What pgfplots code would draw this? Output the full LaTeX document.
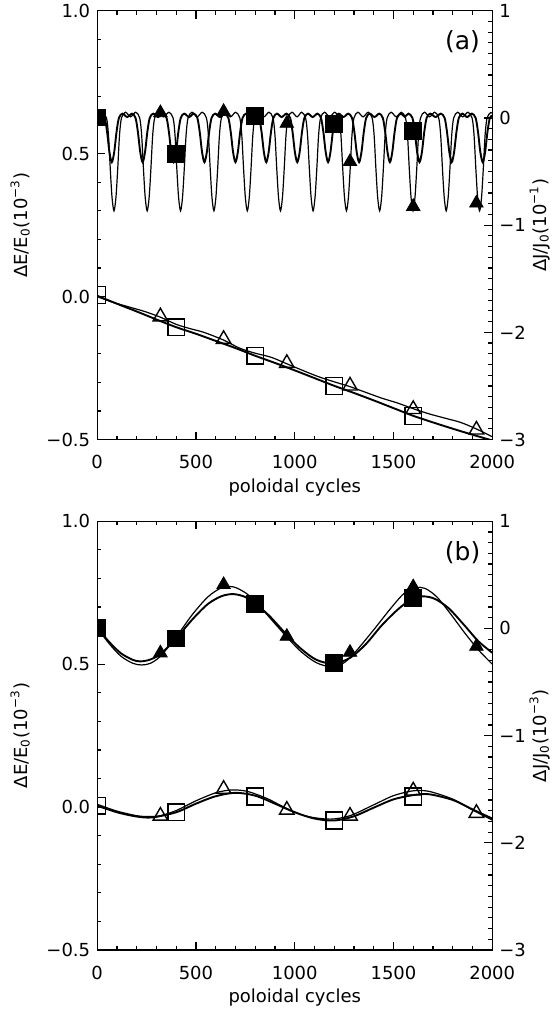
\documentclass[border=0pt]{standalone}
\usepackage{fontspec}
\setmainfont{DejaVu Sans}
\usepackage{pgfplots}
\pgfplotsset{compat=1.18}
\pgfplotsset{
  base/.style={
    width=197.7pt, height=214.65pt, scale only axis,
    xmin=0, xmax=2000,
    clip mode=individual, clip marker paths=true,
    major tick length=4pt, minor tick length=2pt,
    every tick/.style={black, line width=0.6pt},
    ticklabel style={font=\fontsize{9}{10}\selectfont},
    label style={font=\fontsize{9}{10}\selectfont},
    /pgf/number format/assume math mode=true,
    every axis plot/.append style={black},
  },
  leftax/.style={base,
    ymin=-0.5, ymax=1,
    ytick={-0.5,0,0.5,1}, yticklabels={−0.5,0.0,0.5,1.0},
    minor y tick num=4,
    xtick={0,500,1000,1500,2000}, xticklabels={0,500,1000,1500,2000},
    minor x tick num=4,
    ytick pos=left, xtick pos=both, xticklabel pos=lower,
    xticklabel style={yshift=-4.5pt},
    tick align=inside,
    axis line style={line width=0.65pt},
    xlabel={poloidal cycles},
    xlabel style={at={(axis description cs:0.5,0)}, anchor=center, yshift=-24pt},
    ylabel={ΔE/E\textsubscript{0}(10\textsuperscript{−3})},
    ylabel style={at={(axis description cs:-0.195,0.5)}, anchor=center},
  },
  rightax/.style={base,
    ymin=-3, ymax=1,
    ytick={-3,-2,-1,0,1}, yticklabels={−3,−2,−1,0,1},
    minor y tick num=9,
    axis x line=none, axis y line*=right,
    tick align=inside,
    axis line style={draw=none},
    ylabel style={at={(axis description cs:1.12,0.5)}, anchor=center},
  },
  thinl/.style={line width=0.6pt, smooth, no markers},
  thickl/.style={line width=0.95pt, smooth, no markers},
  fsq/.style={only marks, mark=square*, mark size=4.2pt},
  ftr/.style={only marks, mark=triangle*, mark size=3.9pt},
  osq/.style={only marks, mark=square, mark size=4.2pt, mark options={line width=0.7pt}},
  otr/.style={only marks, mark=triangle, mark size=4.2pt, mark options={line width=0.7pt}},
}
\begin{document}
\begin{tikzpicture}
% ===================== panel (a) =====================
\begin{axis}[leftax, at={(0pt,0pt)}, anchor=south west]
\addplot[thickl] coordinates {(0,0.003)(100,-0.025)(200,-0.052)(300,-0.08)(400,-0.107)(500,-0.13)(600,-0.155)(700,-0.18)(800,-0.207)(900,-0.232)(1000,-0.258)(1100,-0.285)(1200,-0.312)(1300,-0.337)(1400,-0.363)(1500,-0.39)(1600,-0.417)(1700,-0.44)(1800,-0.462)(1900,-0.483)(2000,-0.503)};
\addplot[thinl] coordinates {(0,0.0)(80,-0.02)(170,-0.038)(240,-0.052)(320,-0.072)(400,-0.097)(470,-0.112)(540,-0.125)(640,-0.152)(720,-0.18)(800,-0.198)(880,-0.212)(960,-0.235)(1040,-0.258)(1120,-0.28)(1200,-0.298)(1280,-0.315)(1360,-0.335)(1440,-0.355)(1520,-0.372)(1600,-0.392)(1680,-0.41)(1760,-0.425)(1840,-0.44)(1920,-0.463)(2000,-0.49)};
\addplot[osq] coordinates {(0,0.006)(400,-0.107)(800,-0.207)(1200,-0.312)(1600,-0.417)};
\addplot[otr] coordinates {(320,-0.07)(640,-0.149)(960,-0.233)(1280,-0.312)(1600,-0.394)(1920,-0.466)};
\node[font=\fontsize{12.5}{14}\selectfont] at (axis cs:1850,0.89) {(a)};
\end{axis}
\begin{axis}[rightax, at={(0pt,0pt)}, anchor=south west,
  ylabel={ΔJ/J\textsubscript{0}(10\textsuperscript{−1})}]
\addplot[thinl] coordinates {(0,0.013)(25,0.045)
(47,0)(57,-0.16)(66,-0.47)(75,-0.74)(85,-0.867)(95,-0.74)(104,-0.47)(113,-0.16)(123,0)(143,0.053)(169,0.01)(195,0.053)
(215,0)(225,-0.16)(234,-0.47)(243,-0.74)(253,-0.867)(263,-0.74)(272,-0.47)(281,-0.16)(291,0)(311,0.053)(337,0.01)(363,0.053)
(384,0)(394,-0.16)(403,-0.47)(412,-0.74)(422,-0.867)(432,-0.74)(441,-0.47)(450,-0.16)(460,0)(480,0.053)(506,0.01)(532,0.053)
(553,0)(563,-0.16)(572,-0.47)(581,-0.74)(591,-0.867)(601,-0.74)(610,-0.47)(619,-0.16)(629,0)(649,0.053)(675,0.01)(701,0.053)
(722,0)(732,-0.16)(741,-0.47)(750,-0.74)(760,-0.867)(770,-0.74)(779,-0.47)(788,-0.16)(798,0)(818,0.053)(844,0.01)(870,0.053)
(890,0)(900,-0.16)(909,-0.47)(918,-0.74)(928,-0.867)(938,-0.74)(947,-0.47)(956,-0.16)(966,0)(986,0.053)(1012,0.01)(1035,0.053)
(1055,0)(1065,-0.16)(1074,-0.47)(1083,-0.74)(1093,-0.867)(1103,-0.74)(1112,-0.47)(1121,-0.16)(1131,0)(1151,0.053)(1177,0.01)(1203,0.053)
(1224,0)(1234,-0.16)(1243,-0.47)(1252,-0.74)(1262,-0.867)(1272,-0.74)(1281,-0.47)(1290,-0.16)(1300,0)(1320,0.053)(1346,0.01)(1372,0.053)
(1392,0)(1402,-0.16)(1411,-0.47)(1420,-0.74)(1430,-0.867)(1440,-0.74)(1449,-0.47)(1458,-0.16)(1468,0)(1488,0.053)(1514,0.01)(1540,0.053)
(1561,0)(1571,-0.16)(1580,-0.47)(1589,-0.74)(1599,-0.867)(1609,-0.74)(1618,-0.47)(1627,-0.16)(1637,0)(1657,0.053)(1683,0.01)(1709,0.053)
(1729,0)(1739,-0.16)(1748,-0.47)(1757,-0.74)(1767,-0.867)(1777,-0.74)(1786,-0.47)(1795,-0.16)(1805,0)(1825,0.053)(1851,0.01)(1877,0.053)
(1898,0)(1908,-0.16)(1917,-0.47)(1926,-0.74)(1936,-0.867)(1946,-0.74)(1955,-0.47)(1964,-0.16)(1974,0)(1992,0.05)(2000,0.045)};
\addplot[thickl] coordinates {(0,0.013)(20,0.035)
(38,0)(50,-0.13)(62,-0.32)(74,-0.413)(86,-0.32)(98,-0.13)(110,0)(128,0.04)(152,0.008)(176,0.04)
(194,0)(206,-0.13)(218,-0.32)(230,-0.413)(242,-0.32)(254,-0.13)(266,0)(284,0.04)(308,0.008)(332,0.04)
(351,0)(363,-0.13)(375,-0.32)(387,-0.413)(399,-0.32)(411,-0.13)(423,0)(441,0.04)(465,0.008)(489,0.04)
(507,0)(519,-0.13)(531,-0.32)(543,-0.413)(555,-0.32)(567,-0.13)(579,0)(597,0.04)(621,0.008)(645,0.04)
(664,0)(676,-0.13)(688,-0.32)(700,-0.413)(712,-0.32)(724,-0.13)(736,0)(754,0.04)(778,0.008)(802,0.04)
(820,0)(832,-0.13)(844,-0.32)(856,-0.413)(868,-0.32)(880,-0.13)(892,0)(910,0.04)(934,0.008)(958,0.04)
(977,0)(989,-0.13)(1001,-0.32)(1013,-0.413)(1025,-0.32)(1037,-0.13)(1049,0)(1067,0.04)(1091,0.008)(1115,0.04)
(1133,0)(1145,-0.13)(1157,-0.32)(1169,-0.413)(1181,-0.32)(1193,-0.13)(1205,0)(1223,0.04)(1247,0.008)(1271,0.04)
(1290,0)(1302,-0.13)(1314,-0.32)(1326,-0.413)(1338,-0.32)(1350,-0.13)(1362,0)(1380,0.04)(1404,0.008)(1428,0.04)
(1446,0)(1458,-0.13)(1470,-0.32)(1482,-0.413)(1494,-0.32)(1506,-0.13)(1518,0)(1538,0.04)(1557,0.01)(1576,0.04)
(1596,0)(1608,-0.13)(1620,-0.32)(1632,-0.413)(1644,-0.32)(1656,-0.13)(1668,0)(1686,0.04)(1713,0.008)(1740,0.04)
(1759,0)(1771,-0.13)(1783,-0.32)(1795,-0.413)(1807,-0.32)(1819,-0.13)(1831,0)(1849,0.04)(1873,0.008)(1897,0.04)
(1916,0)(1928,-0.13)(1940,-0.32)(1952,-0.413)(1964,-0.32)(1976,-0.13)(1988,0)(2000,0.02)};
\addplot[fsq] coordinates {(0,0.005)(400,-0.333)(800,0.019)(1200,-0.059)(1600,-0.12)};
\addplot[ftr] coordinates {(320,0.048)(640,0.059)(960,-0.051)(1280,-0.408)(1600,-0.827)(1920,-0.795)};
\end{axis}
% ===================== panel (b) =====================
\begin{axis}[leftax, at={(0pt,-40.85pt)}, anchor=north west]
\addplot[thickl] coordinates {(0,0.005)(100,-0.018)(200,-0.033)(280,-0.036)(400,-0.018)(500,0.012)(600,0.038)(700,0.05)(800,0.04)(900,0.012)(1000,-0.018)(1100,-0.04)(1200,-0.047)(1300,-0.032)(1400,-0.002)(1500,0.027)(1600,0.042)(1680,0.045)(1800,0.025)(1900,-0.008)(2000,-0.04)};
\addplot[thinl] coordinates {(0,0.01)(100,-0.014)(200,-0.03)(260,-0.033)(320,-0.03)(400,-0.012)(500,0.022)(600,0.05)(680,0.06)(760,0.055)(860,0.03)(960,-0.005)(1060,-0.032)(1180,-0.042)(1280,-0.03)(1400,0.008)(1500,0.04)(1600,0.057)(1680,0.055)(1800,0.028)(1900,-0.01)(2000,-0.045)};
\addplot[osq] coordinates {(0,0.005)(400,-0.018)(800,0.037)(1200,-0.047)(1600,0.037)};
\addplot[otr] coordinates {(320,-0.031)(640,0.063)(960,-0.01)(1280,-0.031)(1600,0.057)(1920,-0.021)};
\node[font=\fontsize{12.5}{14}\selectfont] at (axis cs:1850,0.889) {(b)};
\end{axis}
\begin{axis}[rightax, at={(0pt,-40.85pt)}, anchor=north west,
  ylabel={ΔJ/J\textsubscript{0}(10\textsuperscript{−3})}]
\addplot[thickl] coordinates {(0,0.005)(60,-0.125)(120,-0.232)(180,-0.293)(215,-0.307)(260,-0.296)(320,-0.24)(400,-0.093)(480,0.08)(560,0.227)(630,0.301)(690,0.32)(750,0.293)(800,0.232)(870,0.12)(950,-0.04)(1030,-0.187)(1110,-0.293)(1195,-0.328)(1280,-0.275)(1360,-0.147)(1440,0.027)(1520,0.173)(1590,0.272)(1650,0.299)(1710,0.275)(1780,0.187)(1860,0.027)(1930,-0.12)(2000,-0.227)};
\addplot[thinl] coordinates {(0,0.005)(60,-0.141)(120,-0.259)(180,-0.325)(225,-0.341)(270,-0.325)(320,-0.259)(400,-0.08)(480,0.125)(560,0.293)(630,0.379)(690,0.387)(750,0.333)(800,0.253)(870,0.107)(950,-0.059)(1030,-0.213)(1110,-0.32)(1190,-0.36)(1250,-0.32)(1310,-0.213)(1400,-0.013)(1480,0.173)(1550,0.32)(1610,0.379)(1660,0.373)(1720,0.293)(1790,0.133)(1860,-0.04)(1930,-0.2)(2000,-0.333)};
\addplot[fsq] coordinates {(0,0.005)(400,-0.093)(800,0.232)(1200,-0.323)(1600,0.285)};
\addplot[ftr] coordinates {(320,-0.229)(640,0.408)(960,-0.075)(1280,-0.224)(1600,0.387)(1920,-0.168)};
\end{axis}
\pgfresetboundingbox
\path (-48.65pt,-285.5pt) rectangle (228.85pt,220pt);
\end{tikzpicture}
\end{document}
